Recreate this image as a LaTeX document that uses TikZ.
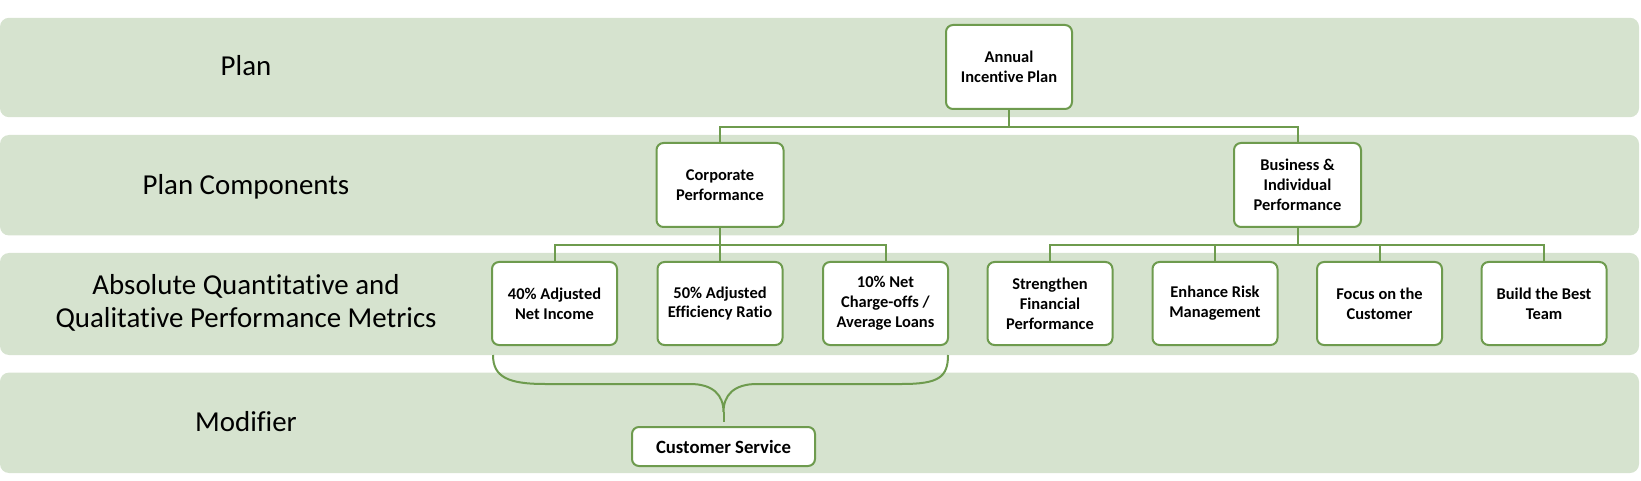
\documentclass[tikz,border=0pt]{standalone}
\usepackage{fontspec}
\setmainfont{Carlito}[Ligatures=NoCommon]
\definecolor{bandgreen}{HTML}{D6E3CF}
\definecolor{linegreen}{HTML}{6E9B4E}
\begin{document}
\begin{tikzpicture}[x=1bp,y=-1bp,
  band/.style={fill=bandgreen, draw=none, rounded corners=9bp},
  box/.style={draw=linegreen, line width=2bp, fill=white, rounded corners=7bp, align=center,
    font=\bfseries\fontsize{16.5}{20}\selectfont, inner sep=0pt},
  metric/.style={box, minimum width=125bp, minimum height=83bp},
  lbl/.style={align=center, font=\fontsize{29}{33.5}\selectfont, inner sep=0pt},
  conn/.style={draw=linegreen, line width=2bp}]
\useasboundingbox (0,0) rectangle (1641,481);
% bands
\path[band] (0,17.8) rectangle (1639,117.2);
\path[band] (0,135) rectangle (1639,235.5);
\path[band] (0,253) rectangle (1639,355);
\path[band] (0,372.6) rectangle (1639,473);
% row labels
\node[lbl] (lplan) at (246,66) {Plan};
\node[lbl] (lcomp) at (246,186.5) {Plan Components};
\node[lbl] (lmet) at (246,303) {Absolute Quantitative and\\Qualitative Performance Metrics};
\node[lbl] (lmod) at (246,421.5) {Modifier};
% boxes
\node[box, minimum width=126bp, minimum height=84bp] (ann) at (1009,67) {Annual\\Incentive Plan};
\node[box, minimum width=127bp, minimum height=84bp] (corp) at (720,185) {Corporate\\Performance};
\node[box, minimum width=127bp, minimum height=84bp] (bus) at (1297.5,185) {Business \&\\Individual\\Performance};
\node[metric] (n40) at (554.5,303.5) {40\% Adjusted\\Net Income};
\node[metric] (n50) at (720,303.5) {50\% Adjusted\\Efficiency Ratio};
\node[metric] (n10) at (885.5,303.5) {10\% Net\\Charge-offs /\\Average Loans};
\node[metric] (s1) at (1050,303.5) {Strengthen\\Financial\\Performance};
\node[metric] (s2) at (1215,303.5) {Enhance Risk\\Management};
\node[metric] (s3) at (1379.5,303.5) {Focus on the\\Customer};
\node[metric] (s4) at (1544,303.5) {Build the Best\\Team};
\node[box, minimum width=183bp, minimum height=39bp, font=\bfseries\fontsize{18.8}{22}\selectfont] (cs) at (723.5,446.5) {Customer Service};
% connectors
\coordinate (b1) at (1009,127);
\coordinate (b2) at (720,245);
\coordinate (b3) at (1297.5,245);
\draw[conn] (ann.south) -- (b1);
\draw[conn] (corp.north) |- (b1) -| (bus.north);
\draw[conn] (corp.south) -- (n50.north);
\draw[conn] (n40.north) |- (b2) -| (n10.north);
\draw[conn] (bus.south) -- (b3);
\draw[conn] (s1.north) |- (b3) -| (s4.north);
\draw[conn] (s2.north) -- (s2.north |- b3);
\draw[conn] (s3.north) -- (s3.north |- b3);
% brace
\coordinate (brl) at (493,355);
\coordinate (brr) at (948,355);
\coordinate (cusp) at (723.5,412);
\draw[conn] (brl) .. controls (493,377) and (508,384) .. (545,384)
  -- (690,384) .. controls (713,384) and (723.5,395) .. (cusp)
  .. controls (723.5,395) and (734,384) .. (757,384)
  -- (902,384) .. controls (939,384) and (948,377) .. (brr);
\draw[conn] (cusp) -- ([yshift=4bp]cs.north);
\end{tikzpicture}
\end{document}
